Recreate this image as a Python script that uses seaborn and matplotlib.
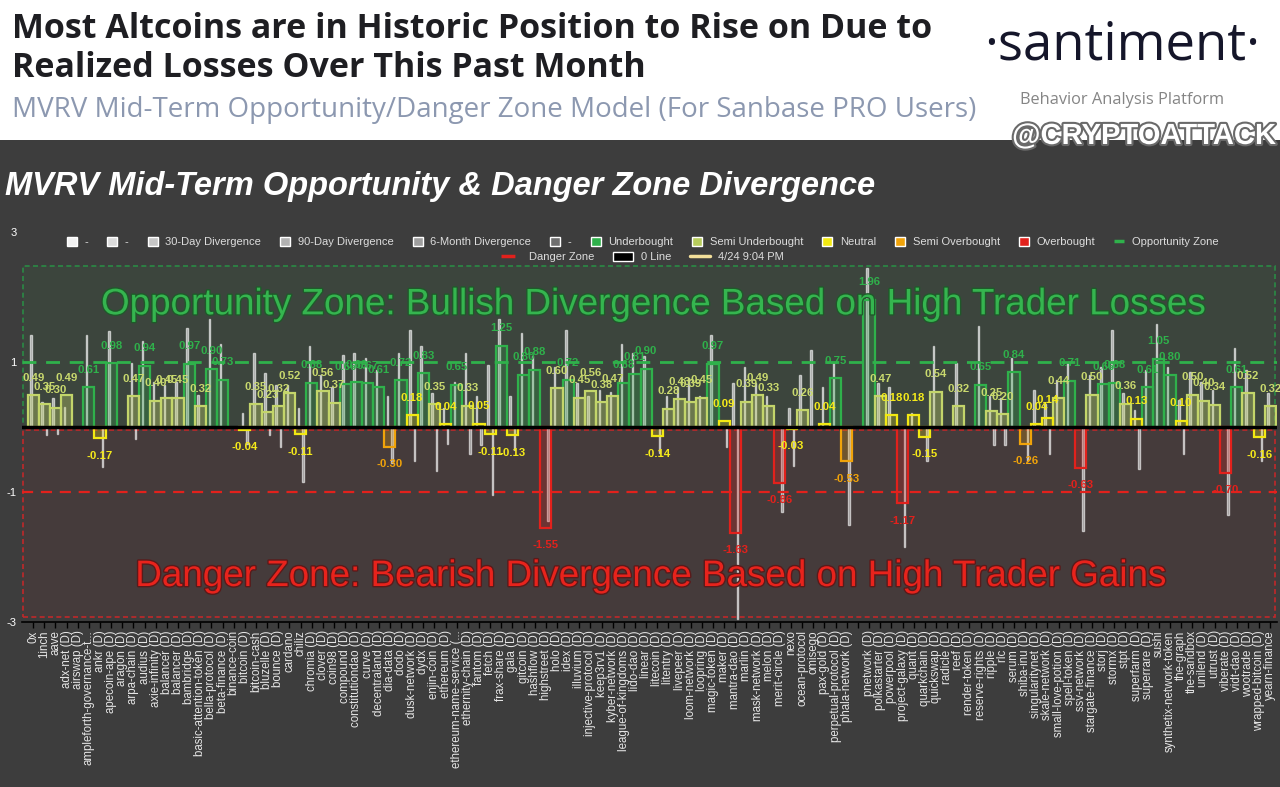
import numpy as np
import pandas as pd
import matplotlib
matplotlib.use("Agg")
import matplotlib.pyplot as plt
import seaborn as sns
from matplotlib.patches import Patch, Rectangle
from matplotlib.lines import Line2D
import matplotlib.patheffects as pe
import matplotlib.colors as mcolors

# ---------------- data ----------------
coins = [
    "0x", "1inch", "aave", "adx-net (D)", "airswap (D)", "ampleforth-governance-t...",
    "ankr (D)", "apecoin-ape (D)", "aragon (D)", "arpa-chain (D)", "audius (D)",
    "axie-infinity (D)", "balancer (D)", "balancer (D)", "bambridge (D)",
    "basic-attention-token (D)", "bella-protocol (D)", "beta-finance (D)", "binance-coin",
    "bitcoin (D)", "bitcoin-cash", "bluzelle (D)", "bounce (D)", "cardano", "chiliz",
    "chromia (D)", "clover (D)", "coin98 (D)", "compound (D)", "constitutiondao (D)",
    "curve (D)", "decentraland (D)", "dia-data (D)", "dodo (D)", "dusk-network (D)",
    "dydx (D)", "enjin-coin (D)", "ethereum (D)", "ethereum-name-service (...",
    "ethernity-chain (D)", "fantom (D)", "fetch (D)", "frax-share (D)", "gala (D)",
    "gitcoin (D)", "hashflow (D)", "highstreet (D)", "holo (D)", "idex (D)", "illuvium (D)",
    "injective-protocol (D)", "keep3rv1 (D)", "kyber-network (D)", "league-of-kingdoms (D)",
    "lido-dao (D)", "linear (D)", "litecoin (D)", "litentry (D)", "livepeer (D)",
    "loom-network (D)", "loopring (D)", "magic-token (D)", "maker (D)", "mantra-dao (D)",
    "marlin (D)", "mask-network (D)", "melon (D)", "merit-circle (D)", "nexo",
    "ocean-protocol", "omisego", "pax-gold (D)", "perpetual-protocol (D)",
    "phala-network (D)", " ", "pnetwork (D)", "polkastarter (D)", "powerpool (D)",
    "project-galaxy (D)", "quant (D)", "quarkchain (D)", "quickswap (D)", "radicle (D)",
    "reef (D)", "render-token (D)", "reserve-rights (D)", "ripple (D)", "rlc (D)",
    "serum (D)", "shiba-inu (D)", "singularitynet (D)", "skale-network (D)",
    "small-love-potion (D)", "spell-token (D)", "ssv-network (D)", "stargate-finance (D)",
    "storj (D)", "stormx (D)", "stpt (D)", "superfarm (D)", "superrare (D)", "sushi",
    "synthetix-network-token", "the-graph", "the-sandbox", "unilend (D)", "utrust (D)",
    "viberate (D)", "vidt-dao (D)", "wootrade (D)", "wrapped-bitcoin (D)", "yearn-finance",
]

nan = np.nan
mvrv_divergence = [
    0.49, 0.35, 0.30, 0.49, nan, 0.61, -0.17, 0.98, nan, 0.47, 0.94,
    0.40, 0.45, 0.45, 0.97, 0.32, 0.90, 0.73, nan, -0.04, 0.35,
    0.23, 0.32, 0.52, -0.11, 0.68, 0.56, 0.37, 0.66, 0.69, 0.67,
    0.61, -0.30, 0.72, 0.18, 0.83, 0.35, 0.04, 0.65, 0.33, 0.05,
    -0.11, 1.25, -0.13, 0.80, 0.88, -1.55, 0.60, 0.72, 0.45, 0.56,
    0.38, 0.47, 0.68, 0.81, 0.90, -0.14, 0.28, 0.43, 0.39, 0.45,
    0.97, 0.09, -1.63, 0.39, 0.49, 0.33, -0.86, -0.03, 0.26, nan,
    0.04, 0.75, -0.53, nan, 1.96, 0.47, 0.18, -1.17, 0.18, -0.15,
    0.54, nan, 0.32, nan, 0.65, 0.25, 0.20, 0.84, -0.26, 0.04,
    0.14, 0.44, 0.71, -0.63, 0.50, 0.66, 0.68, 0.36, 0.13, 0.61,
    1.05, 0.80, 0.10, 0.50, 0.40, 0.34, -0.70, 0.61, 0.52, -0.16, 0.32,
]

divergence_30d = [
    1.42, 0.38, 0.44, 0.31, nan, 1.42, nan, 1.47, nan, 0.98, 1.32,
    0.70, 0.65, 0.70, 1.53, 0.49, 1.66, 1.27, nan, 0.21, 1.14,
    0.83, 0.65, 0.65, 0.29, 1.24, 0.80, 0.62, 1.11, 1.14, 1.06,
    0.88, 0.47, 1.14, 1.50, 1.24, 0.52, 0.29, 0.70, 1.14, 0.47,
    0.96, 1.66, 0.47, 1.45, 1.09, nan, 0.93, 1.50, 0.67, 0.47,
    0.57, 0.54, 1.27, 1.14, 1.09, nan, 0.47, 0.62, 0.75, 0.47,
    1.42, nan, 0.67, 0.93, 0.67, 0.47, nan, 0.29, 0.80, 1.19,
    0.62, 0.98, nan, nan, 2.45, 0.67, 0.62, nan, 0.21, nan,
    1.24, nan, 0.98, nan, 1.55, 0.47, 0.44, 1.06, nan, 0.57,
    0.36, 0.72, 0.98, nan, 0.80, 0.93, 1.50, 0.52, 0.26, 0.88,
    1.58, 0.93, 0.41, 0.85, 0.70, 0.57, nan, 1.22, 0.88, nan, 0.52,
]

divergence_6m = [
    nan, -0.12, -0.10, nan, nan, nan, -0.62, nan, nan, -0.18, nan,
    nan, nan, nan, nan, nan, nan, nan, nan, -0.26, nan,
    -0.13, -0.30, nan, -0.85, nan, nan, nan, nan, nan, nan,
    nan, -0.55, nan, -0.52, nan, -0.68, -0.26, nan, -0.41, -0.28,
    -1.05, nan, -0.36, nan, nan, -1.45, nan, nan, nan, nan,
    nan, nan, nan, nan, nan, -0.40, nan, nan, nan, nan,
    nan, -0.30, -2.95, nan, nan, nan, -1.30, -0.60, nan, nan,
    nan, nan, -1.50, nan, nan, nan, nan, -1.85, nan, -0.52,
    nan, nan, nan, nan, nan, -0.28, -0.28, nan, -0.52, nan,
    -0.41, nan, nan, -1.60, nan, nan, nan, nan, -0.65, nan,
    nan, nan, -0.41, nan, nan, nan, -1.35, nan, nan, -0.52, nan,
]

zone_names = ["Underbought", "Semi Underbought", "Neutral", "Semi Overbought", "Overbought"]
zone_colors = ["#2fb14b", "#c3d56a", "#f3e912", "#f0a30a", "#e2211c"]
label_colors = ["#2fb14b", "#c9d96e", "#f5ea1a", "#f0a30a", "#e2211c"]


def zone_of(v):
    if v > 0.6:
        return "Underbought"
    if v >= 0.2:
        return "Semi Underbought"
    if v > -0.2:
        return "Neutral"
    if v >= -0.6:
        return "Semi Overbought"
    return "Overbought"


N = len(coins)
pos = list(range(N))
main_df = pd.DataFrame({"pos": pos, "value": mvrv_divergence}).dropna()
main_df["zone"] = main_df["value"].apply(zone_of)

spike_df = pd.concat([
    pd.DataFrame({"pos": pos, "value": divergence_30d, "series": "30-Day Divergence"}),
    pd.DataFrame({"pos": pos, "value": divergence_6m, "series": "6-Month Divergence"}),
]).dropna()

# ---------------- style ----------------
sns.set_theme(style="dark")
plt.rcParams['font.family'] = ['Liberation Sans', 'DejaVu Sans']
BG = "#3d3d3d"

fig = plt.figure(figsize=(12.8, 7.87), dpi=100)
fig.patch.set_facecolor(BG)
fig.add_artist(Rectangle((0, 0.822), 1, 0.178, transform=fig.transFigure,
                         facecolor="white", edgecolor="none", zorder=0))

ax = fig.add_axes([22 / 1280, 1 - 622 / 787, 1255 / 1280, 390 / 787])
ax.set_facecolor(BG)

# thin divergence spikes
sns.barplot(data=spike_df, x="pos", y="value", hue="series", order=pos,
            hue_order=["30-Day Divergence", "6-Month Divergence"],
            palette=["#d0d0d0", "#b8b8b8"], dodge=True, width=0.8, gap=0.68,
            errorbar=None, legend=False, ax=ax, saturation=1, zorder=2)
for cont in ax.containers:
    for p in cont.patches:
        p.set_alpha(0.62)
n_before = len(ax.containers)

# zones
ax.add_patch(Rectangle((-0.95, 0), 112.4, 2.48, facecolor="#2fb14b", alpha=0.07,
                       edgecolor="none", zorder=0))
ax.add_patch(Rectangle((-0.95, 0), 112.4, 2.48, facecolor="none", edgecolor="#2a8a45",
                       lw=1.2, ls=(0, (3, 2)), zorder=1))
ax.add_patch(Rectangle((-0.95, -2.93), 112.4, 2.88, facecolor="#e2211c", alpha=0.05,
                       edgecolor="none", zorder=0))
ax.add_patch(Rectangle((-0.95, -2.93), 112.4, 2.88, facecolor="none", edgecolor="#c0282a",
                       lw=1.2, ls=(0, (3, 2)), zorder=1))

# main zone bars
sns.barplot(data=main_df, x="pos", y="value", hue="zone", order=pos,
            hue_order=zone_names, palette=dict(zip(zone_names, zone_colors)),
            dodge=False, width=1.0, errorbar=None, legend=False, ax=ax,
            saturation=1, zorder=3)

color_to_idx = {mcolors.to_hex(c): i for i, c in enumerate(zone_colors)}
for cont in ax.containers[n_before:]:
    if len(cont.patches) == 0:
        continue
    fc = mcolors.to_hex(cont.patches[0].get_facecolor())
    zi = color_to_idx.get(fc, 0)
    rgb = mcolors.to_rgb(zone_colors[zi])
    for p in cont.patches:
        p.set_facecolor((*rgb, 0.25 if zi != 1 else 0.35))
        p.set_edgecolor((*rgb, 1.0))
        p.set_linewidth(1.6)
    ax.bar_label(cont, fmt="{:.2f}", padding=9, color=label_colors[zi],
                 fontsize=8.2, fontweight="bold" if zi in (2, 3) else "semibold")

# reference lines
ax.axhline(1, color="#2fb14b", lw=2, ls=(0, (5, 3.5)), zorder=4)
ax.axhline(-1, color="#e2211c", lw=1.6, ls=(0, (5, 3.5)), zorder=4)
ax.axhline(0, color="black", lw=2.5, zorder=5)

# zone texts
ax.text(0.502, 1.88, "Opportunity Zone: Bullish Divergence Based on High Trader Losses",
        transform=ax.get_yaxis_transform(), ha="center", va="center", fontsize=26.5,
        color="#35b54f", zorder=6,
        path_effects=[pe.withStroke(linewidth=2, foreground="#1f5a2a")])
ax.text(0.5, -2.3, "Danger Zone: Bearish Divergence Based on High Trader Gains",
        transform=ax.get_yaxis_transform(), ha="center", va="center", fontsize=26.5,
        color="#e8231c", zorder=6,
        path_effects=[pe.withStroke(linewidth=2, foreground="#5a1a1a")])

# axes
ax.set_xlim(-1, 111.6)
ax.set_ylim(-3, 3)
ax.set_xlabel("")
ax.set_ylabel("")
ax.grid(False)
ax.set_xticks(pos)
ax.set_xticklabels(coins, rotation=90, fontsize=8.3, color="#e6e6e6")
ax.set_yticks([3, 1, -1, -3])
ax.set_yticklabels(["3", "1", "-1", "-3"], fontsize=8, color="white")
ax.tick_params(axis="x", length=4, width=1, color="black", pad=2, bottom=True)
ax.tick_params(axis="y", length=0, pad=4)
for s in ["top", "right", "left"]:
    ax.spines[s].set_visible(False)
ax.spines["bottom"].set_color("black")
ax.spines["bottom"].set_linewidth(1.2)

# legends
h1 = [Patch(fc="#f2f2f2"), Patch(fc="#dcdcdc"), Patch(fc="#c6c6c6"), Patch(fc="#b2b2b2"),
      Patch(fc="#9e9e9e"), Patch(fc="#6f6f6f"), Patch(fc=zone_colors[0]),
      Patch(fc="#b7cc5c"), Patch(fc=zone_colors[2]), Patch(fc=zone_colors[3]),
      Patch(fc=zone_colors[4]),
      Line2D([], [], color="#2fb14b", lw=2.5, ls=(0, (4, 2)))]
l1 = ["-", "-", "30-Day Divergence", "90-Day Divergence", "6-Month Divergence", "-",
      "Underbought", "Semi Underbought", "Neutral", "Semi Overbought", "Overbought",
      "Opportunity Zone"]
fig.legend(h1, l1, loc="center", bbox_to_anchor=(0.502, 1 - 242 / 787), ncol=12,
           frameon=False, fontsize=8, labelcolor="#dddddd", handlelength=0.9,
           handleheight=0.9, columnspacing=1.7, handletextpad=0.7)
h2 = [Line2D([], [], color="#e2211c", lw=2.5, ls=(0, (4, 2))), Patch(fc="black"),
      Line2D([], [], color="#f3df9a", lw=2.5)]
l2 = ["Danger Zone", "0 Line", "4/24 9:04 PM"]
fig.legend(h2, l2, loc="center", bbox_to_anchor=(0.502, 1 - 257 / 787), ncol=3,
           frameon=False, fontsize=8, labelcolor="#dddddd", handlelength=1.8,
           handleheight=0.9, columnspacing=1.7, handletextpad=0.7)

# header texts
hfont = ["Open Sans", "DejaVu Sans"]
fig.text(12 / 1280, 1 - 29 / 787, "Most Altcoins are in Historic Position to Rise on Due to",
         fontsize=24.5, fontweight="bold", color="#1e1e22", va="center", family=hfont)
fig.text(12 / 1280, 1 - 68 / 787, "Realized Losses Over This Past Month",
         fontsize=24.5, fontweight="bold", color="#1e1e22", va="center", family=hfont)
fig.text(12 / 1280, 1 - 110 / 787,
         "MVRV Mid-Term Opportunity/Danger Zone Model (For Sanbase PRO Users)",
         fontsize=20, color="#8c98b0", va="center", family=hfont)
fig.text(1122 / 1280, 1 - 46 / 787, "·santiment·", fontsize=38, color="#15162a",
         ha="center", va="center", family=hfont)
fig.text(1122 / 1280, 1 - 100 / 787, "Behavior Analysis Platform", fontsize=11.8,
         color="#858585", ha="center", va="center", family=hfont)
fig.text(1144 / 1280, 1 - 136 / 787, "@CRYPTOATTACK", fontsize=21, fontweight="bold",
         color="white", ha="center", va="center", zorder=10,
         path_effects=[pe.withStroke(linewidth=3, foreground="#6a6a6a")])

fig.text(5 / 1280, 1 - 187 / 787, "MVRV Mid-Term Opportunity & Danger Zone Divergence",
         fontsize=23.5, fontweight="bold", fontstyle="italic", color="white", va="center")

fig.savefig("out.png", dpi=100, facecolor=fig.get_facecolor())
